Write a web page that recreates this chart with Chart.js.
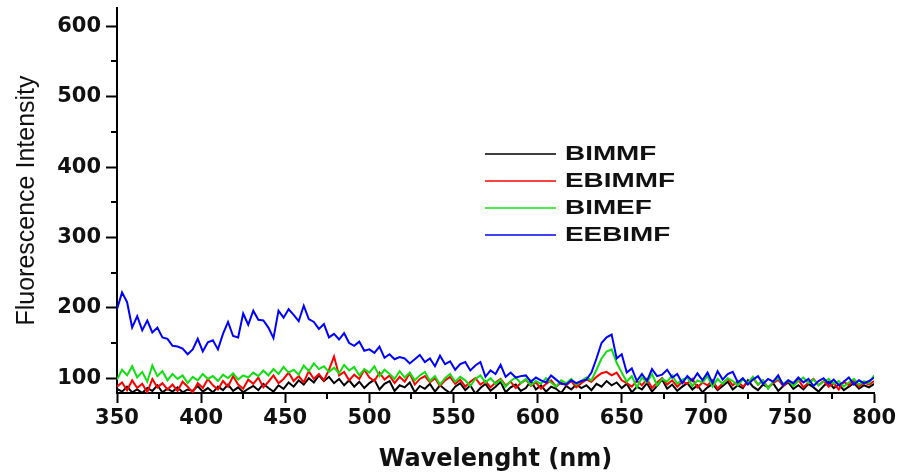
<!DOCTYPE html>
<html>
<head>
<meta charset="utf-8">
<script src="https://cdn.jsdelivr.net/npm/chart.js@4/dist/chart.umd.min.js"></script>
<style>
  html, body { margin: 0; padding: 0; background: #fff; }
  #wrap { width: 899px; height: 474px; position: relative; }
</style>
</head>
<body>
<div id="wrap"><canvas id="spectra"></canvas></div>
<script>
// wavelength (nm), 3 nm steps
const wavelengths = [
  350,353,356,359,362,365,368,371,374,377,
  380,383,386,389,392,395,398,401,404,407,
  410,413,416,419,422,425,428,431,434,437,
  440,443,446,449,452,455,458,461,464,467,
  470,473,476,479,482,485,488,491,494,497,
  500,503,506,509,512,515,518,521,524,527,
  530,533,536,539,542,545,548,551,554,557,
  560,563,566,569,572,575,578,581,584,587,
  590,593,596,599,602,605,608,611,614,617,
  620,623,626,629,632,635,638,641,644,647,
  650,653,656,659,662,665,668,671,674,677,
  680,683,686,689,692,695,698,701,704,707,
  710,713,716,719,722,725,728,731,734,737,
  740,743,746,749,752,755,758,761,764,767,
  770,773,776,779,782,785,788,791,794,797,
  800
];

const bimmf = [
  85,81,88,80,84,79,86,82,90,80,
  85,81,87,80,84,82,89,81,86,80,
  88,83,91,82,87,80,85,89,83,92,
  86,81,90,85,94,88,97,91,100,94,
  104,96,102,93,99,90,97,88,95,86,
  93,98,84,92,96,82,90,87,94,80,
  89,85,92,81,90,84,79,88,93,83,
  90,78,86,92,82,88,95,80,87,91,
  82,86,96,84,90,81,88,85,79,89,
  84,91,86,90,83,92,88,96,90,94,
  86,92,80,88,84,93,81,89,98,85,
  91,82,88,93,84,90,80,87,92,83,
  89,95,84,90,86,97,88,83,91,87,
  93,82,89,94,85,90,84,92,87,81,
  89,95,86,91,83,88,93,85,90,87,
  92
];

const ebimmf = [
  88,94,83,97,86,92,80,99,87,93,
  84,91,82,95,88,80,93,86,99,90,
  84,96,88,103,91,85,98,92,101,87,
  95,104,93,99,108,96,103,94,110,99,
  106,97,112,131,104,109,97,105,99,112,
  101,96,108,98,104,93,102,95,107,91,
  99,103,94,100,89,97,102,92,98,88,
  95,100,91,96,87,94,99,90,95,86,
  93,98,89,94,85,92,97,88,94,90,
  96,87,93,98,95,102,107,109,104,108,
  97,93,88,96,90,99,86,94,100,91,
  97,88,95,92,99,87,94,90,97,85,
  93,99,90,96,88,94,100,91,97,86,
  93,98,89,95,91,98,87,94,99,90,
  96,88,93,84,95,90,97,88,94,91,
  96
];

const bimef = [
  98,112,104,117,101,109,95,118,103,110,
  97,106,99,104,93,102,97,106,99,103,
  96,105,100,107,98,104,101,108,103,111,
  104,113,106,116,108,112,105,118,110,121,
  113,117,109,115,107,119,111,116,104,113,
  108,117,103,112,106,99,110,101,108,97,
  104,109,96,103,91,100,106,95,102,97,
  89,99,104,94,100,92,98,88,96,101,
  93,99,90,96,92,100,94,88,97,93,
  99,91,96,101,97,112,128,138,141,122,
  108,95,103,87,101,94,106,90,99,95,
  104,92,98,101,89,97,94,103,88,99,
  92,100,96,90,98,93,102,91,97,85,
  95,100,92,97,89,96,101,93,98,90,
  95,99,92,96,88,94,99,91,96,93,
  104
];

const eebimf = [
  198,222,208,172,188,168,182,165,172,158,
  156,146,145,142,134,141,156,138,151,154,
  141,163,180,160,158,192,176,196,183,182,
  172,157,196,186,198,190,181,203,184,180,
  170,177,158,163,155,164,150,146,152,139,
  141,136,145,129,134,127,130,128,121,127,
  133,123,128,117,132,120,124,112,120,123,
  111,118,123,102,111,106,119,102,108,101,
  103,104,95,101,97,94,104,98,92,91,
  97,93,96,98,108,128,150,158,162,128,
  134,108,114,96,106,96,113,103,105,112,
  101,106,93,103,96,107,97,108,93,110,
  98,106,109,94,100,91,98,103,92,99,
  95,104,90,97,93,101,94,99,89,96,
  100,92,98,90,95,101,91,97,93,96,
  101
];

const seriesNames = ['BIMMF', 'EBIMMF', 'BIMEF', 'EEBIMF'];
const seriesColors = ['#000000', '#ff0000', '#10e010', '#0000ff'];
const xTicksMajor = [350, 400, 450, 500, 550, 600, 650, 700, 750, 800];
const yTicksMajor = [100, 200, 300, 400, 500, 600];

const series = [bimmf, ebimmf, bimef, eebimf];

// minor ticks + in-plot legend
const extras = {
  id: 'extras',
  afterDraw(chart) {
    const ctx = chart.ctx;
    const xs = chart.scales.x, ys = chart.scales.y;
    const area = chart.chartArea;
    ctx.save();
    ctx.strokeStyle = '#000';
    ctx.lineWidth = 2;
    ctx.beginPath();
    for (let v = 375; v < 800; v += 50) {
      const px = Math.round(xs.getPixelForValue(v));
      ctx.moveTo(px, area.bottom);
      ctx.lineTo(px, area.bottom + 6);
    }
    for (let v = 150; v < 620; v += 100) {
      const py = Math.round(ys.getPixelForValue(v));
      ctx.moveTo(area.left, py);
      ctx.lineTo(area.left - 6, py);
    }
    ctx.stroke();

    // legend
    const rows = [154, 181, 208, 235];
    chart.data.datasets.forEach((ds, i) => {
      const y = rows[i];
      ctx.strokeStyle = ds.borderColor;
      ctx.lineWidth = 1.6;
      ctx.beginPath();
      ctx.moveTo(485, y);
      ctx.lineTo(556, y);
      ctx.stroke();
      ctx.save();
      ctx.translate(565, y + 1);
      ctx.scale(1.43, 1);
      ctx.fillStyle = '#111';
      ctx.font = 'bold 19.5px "Liberation Sans", Arial, sans-serif';
      ctx.textBaseline = 'middle';
      ctx.fillText(ds.label, 0, 0);
      ctx.restore();
    });
    ctx.restore();
  }
};

const orderOf = [4, 3, 2, 1];

new Chart(document.getElementById('spectra'), {
  type: 'line',
  data: {
    datasets: series.map((vals, i) => ({
      label: seriesNames[i],
      data: vals.map((v, k) => ({ x: wavelengths[k], y: v })),
      borderColor: seriesColors[i],
      borderWidth: 2,
      pointRadius: 0,
      tension: 0,
      fill: false,
      order: orderOf[i]
    }))
  },
  options: {
    responsive: true,
    maintainAspectRatio: false,
    animation: false,
    layout: { padding: { left: 0, right: 23, top: 8, bottom: 0 } },
    plugins: {
      legend: { display: false },
      tooltip: { enabled: false }
    },
    scales: {
      x: {
        type: 'linear',
        min: 350,
        max: 800,
        afterFit(scale) { scale.height = 81; },
        afterBuildTicks(scale) { scale.ticks = xTicksMajor.map(v => ({ value: v })); },
        grid: { drawOnChartArea: false, tickLength: 10, tickColor: '#000', tickWidth: 2 },
        border: { color: '#000', width: 2 },
        ticks: {
          color: '#111',
          padding: 3,
          maxRotation: 0,
          font: { family: '"DejaVu Sans", sans-serif', weight: 'bold', size: 21 }
        },
        title: {
          display: true,
          text: 'Wavelenght (nm)',
          color: '#111',
          padding: { top: 0, bottom: 0 },
          font: { family: '"DejaVu Sans", sans-serif', weight: 'bold', size: 24 }
        }
      },
      y: {
        min: 79,
        max: 626,
        afterFit(scale) { scale.width = 117; scale.paddingTop = 0; scale.paddingBottom = 0; },
        afterBuildTicks(scale) { scale.ticks = yTicksMajor.map(v => ({ value: v })); },
        grid: { drawOnChartArea: false, tickLength: 11, tickColor: '#000', tickWidth: 2 },
        border: { color: '#000', width: 2 },
        ticks: {
          color: '#111',
          padding: 5,
          font: { family: '"DejaVu Sans", sans-serif', weight: 'bold', size: 21 }
        },
        title: {
          display: true,
          text: 'Fluorescence Intensity',
          color: '#111',
          padding: { top: 12, bottom: 0 },
          font: { family: '"Liberation Sans", Arial, sans-serif', weight: 'normal', size: 25 }
        }
      }
    }
  },
  plugins: [extras]
});
</script>
</body>
</html>
